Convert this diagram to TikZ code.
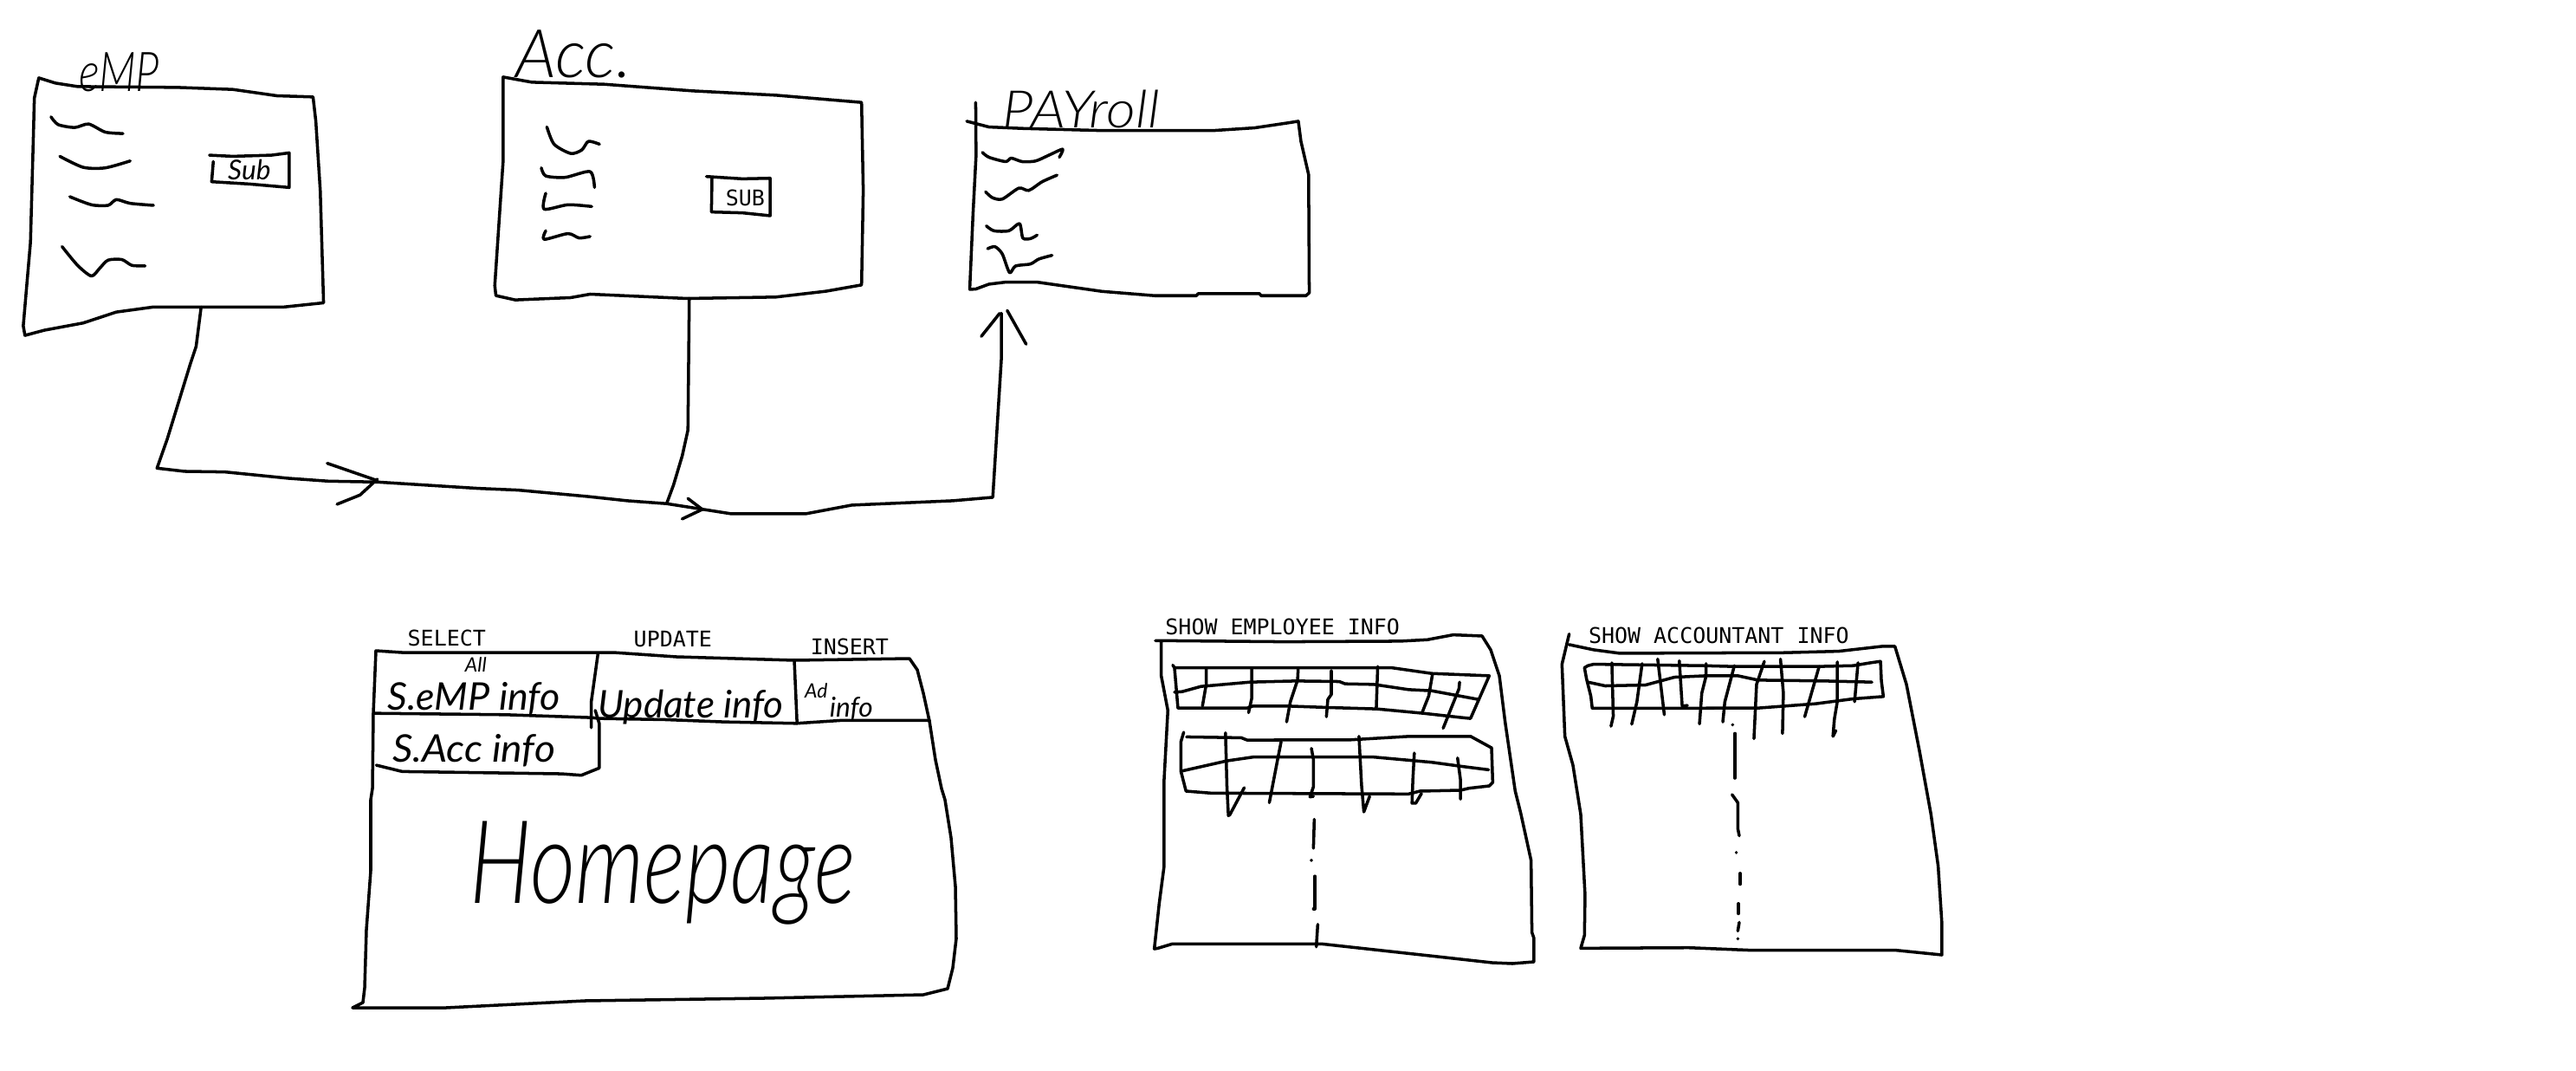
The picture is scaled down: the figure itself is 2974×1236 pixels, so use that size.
\documentclass[tikz,border=0pt]{standalone}
\usepackage{fontspec}
\setmainfont{Lato}
\newfontfamily\lightfont{Lato Light Italic}
\newfontfamily\printfont{DejaVu Sans Mono}
\newcommand\sq[1]{\draw[ink] plot[smooth,tension=.45] coordinates {#1};}
\newcommand\dotmark[1]{\fill #1 circle[radius=0.55pt];}
\tikzset{
  ink/.style={line width=1pt,line join=round,line cap=round,black},
  printed/.style={inner sep=0pt,font=\printfont\fontsize{7.1}{8}\selectfont},
  hand/.style={inner sep=0pt,transform shape,font=\lightfont\fontsize{#1}{#1}\selectfont},
  handsmall/.style={inner sep=0pt,transform shape,font=\itshape\fontsize{#1}{#1}\selectfont},
  zoomA/.style={shift={(0,20)},x=0.0064cm,y=-0.003333cm},
  zoomB/.style={shift={(1000,80)},x=0.003827cm,y=-0.003333cm},
  zoomC/.style={shift={(160,320)},x=0.006633cm,y=-0.003333cm},
  zoomD/.style={shift={(400,710)},x=0.004592cm,y=-0.003333cm},
  zoomE/.style={shift={(1320,700)},x=0.003333cm,y=-0.003333cm},
  zoomF/.style={shift={(1790,700)},x=0.003333cm,y=-0.003333cm},
}
\begin{document}
\begin{tikzpicture}[x=0.01cm,y=-0.01cm]
\useasboundingbox (0,0) rectangle (2974,1236);
\fill[white] (0,0) rectangle (2974,1236);

% ---------- EMP and ACC
\begin{scope}[zoomA]
\draw[ink] (70,210)--(100,228)--(140,240)--(320,243)--(420,250)--(500,272)--(565,276)--(570,360)--(578,600)--(584,990)--(510,1005)--(275,1005)--(210,1022)--(150,1060)--(80,1085)--(45,1103)--(42,1070)--(55,780)--(60,430)--(62,280)--cycle;
\sq{(92,345)(105,372)(135,382)(160,370)(190,398)(222,403)}
\sq{(108,482)(150,520)(190,522)(235,498)}
\sq{(126,622)(165,650)(195,652)(210,632)(235,645)(277,652)}
\sq{(112,795)(140,860)(165,897)(180,870)(195,842)(220,840)(238,860)(262,862)}
\draw[ink] (378,478)--(420,482)--(490,478)--(522,470)--(522,590)--(450,578)--(382,570)--(385,500);
\node[handsmall=9] (subemp) at (450,530) {Sub};
\node[hand=18,xscale=.8] (emptitle) at (215,190) {eMP};
\coordinate (empout) at (363,1005);

\draw[ink] (908,207)--(960,225)--(1090,232)--(1250,255)--(1400,270)--(1555,295)--(1558,600)--(1555,928)--(1490,950)--(1400,970)--(1240,975)--(1065,960)--(1030,972)--(930,980)--(895,965)--(893,930)--(908,500)--cycle;
\sq{(987,380)(1000,440)(1030,472)(1050,460)(1062,430)(1082,440)}
\sq{(977,522)(985,550)(1020,555)(1065,535)(1073,590)}
\sq{(985,610)(982,665)(1025,650)(1068,656)}
\sq{(985,740)(982,770)(1025,750)(1045,765)(1065,760)}
\draw[ink] (1275,552)--(1340,560)--(1390,558)--(1390,688)--(1340,678)--(1284,675)--(1285,560);
\node[printed] (subacc) at (1345,625) {SUB};
\node[hand=22] (acctitle) at (1035,128) {Acc.};
\coordinate (accout) at (1244,975);
\end{scope}

% ---------- PAYROLL
\begin{scope}[zoomB]
\draw[ink] (303,180)--(370,200)--(470,205)--(700,212)--(1050,212)--(1170,203)--(1275,185)--(1302,180)--(1310,250)--(1333,365)--(1335,775)--(1325,785)--(1190,785)--(1185,778)--(1000,778)--(995,785)--(870,785)--(710,770)--(515,738)--(420,738)--(370,745)--(330,762)--(312,763)--(322,500)--(331,300)--(330,115);
\sq{(350,288)(370,305)(420,320)(437,308)(470,320)(510,318)(550,298)(592,277)(582,305)}
\sq{(360,425)(380,445)(410,450)(460,412)(490,420)(530,390)(575,367)}
\sq{(362,543)(385,560)(430,560)(462,535)(472,585)(495,587)(515,575)}
\sq{(366,622)(388,615)(410,640)(432,705)(450,682)(495,675)(520,658)(560,645)}
\node[hand=17,xscale=1.1] (paytitle) at (648,138) {PAYroll};
\end{scope}

% ---------- CONNECTORS
\begin{scope}[zoomC]
\coordinate (mid) at (918,785);
\coordinate (payin) at (1500,125);
\draw[ink] (empout)--(100,240)--(90,300)--(50,560)--(32,662)--(80,673)--(150,675)--(260,697)--(330,707)--(415,710)--(590,732)--(660,738)--(780,760)--(850,775)--(mid)--(1030,820)--(1160,820)--(1240,790)--(1415,775)--(1485,763)--(1500,280)--(payin);
\draw[ink] (accout)--(955,530)--(945,620)--(930,720)--(mid);
\draw[ink] (1465,205)--(1497,125);
\draw[ink] (1510,115)--(1543,232);
\draw[ink] (328,645)--(415,705);
\draw[ink] (345,787)--(385,755)--(415,700);
\draw[ink] (955,767)--(980,805)--(945,838);
\end{scope}

% ---------- HOMEPAGE
\draw[ink] (434,751)--(464,753)--(708,753)--(781,758)--(917,762)--(1050,760)--(1059,773)--(1066,800)--(1073,832)--(1080,877)--(1087,910)--(1091,923)--(1098,967)--(1103,1023)--(1104,1083)--(1100,1117)--(1094,1141)--(1066,1148)--(882,1152)--(675,1155)--(515,1163)--(407,1163)--(419,1157)--(421,1140)--(423,1073)--(428,1005)--(428,923)--(430,910)--(431,823)--cycle;
\begin{scope}[zoomD]
\draw[ink] (68,340)--(400,345)--(615,355)--(635,358)--(800,362)--(950,370)--(1130,375)--(1240,365)--(1465,365);
\draw[ink] (632,132)--(615,300)--(615,390);
\draw[ink] (625,330)--(635,375)--(635,530)--(590,555)--(540,550)--(140,542)--(75,520);
\draw[ink] (1125,155)--(1132,375);
\node[printed] (select) at (252,78) {SELECT};
\node[printed] (update) at (820,82) {UPDATE};
\node[printed] (insert) at (1264,110) {INSERT};
\node[handsmall=6.5] (all) at (325,172) {All};
\node[handsmall=12.5,xscale=1.02] (semp) at (320,288) {S.eMP info};
\node[handsmall=12.5] (upd) at (865,318) {Update info};
\node[handsmall=6.5] (ad) at (1180,262) {Ad};
\node[handsmall=9] (inf) at (1268,325) {info};
\node[handsmall=12.5,xscale=1.05] (sacc) at (320,468) {S.Acc info};
\end{scope}
\node[hand=38,xscale=.76] (home) at (765,1008) {Homepage};

% ---------- EMPLOYEE PANEL
\begin{scope}[zoomE]
\node[printed] (showemp) at (483,70) {SHOW EMPLOYEE INFO};
\draw[ink] (42,118)--(490,122)--(890,120)--(985,115)--(1075,98)--(1175,102)--(1205,150)--(1235,240)--(1255,400)--(1290,640)--(1310,720)--(1345,880)--(1348,1130)--(1355,1150)--(1355,1232)--(1280,1238)--(1210,1235)--(1030,1215)--(620,1170)--(100,1170)--(50,1185)--(38,1187)--(55,1030)--(72,900)--(72,600)--(85,360)--(62,240)--(62,122);
\draw[ink] (102,203)--(108,212)--(860,212)--(1000,232)--(1200,240)--(1135,388)--(1105,385)--(970,370)--(810,355)--(640,350)--(500,345)--(380,345)--(360,352)--(120,352)--(108,212);
\draw[ink] (108,297)--(135,295)--(200,277)--(370,262)--(530,258)--(680,260)--(700,268)--(800,270)--(920,288)--(1000,292)--(1162,322);
\draw[ink] (218,215)--(218,270)--(205,345);
\draw[ink] (376,215)--(376,318)--(365,368);
\draw[ink] (537,218)--(535,255)--(510,330)--(497,400);
\draw[ink] (652,222)--(652,305)--(640,322)--(635,382);
\draw[ink] (813,208)--(808,355);
\draw[ink] (1003,235)--(990,310)--(967,368);
\draw[ink] (1097,262)--(1095,285)--(1040,422);
\draw[ink] (140,436)--(130,470)--(130,570)--(148,640)--(235,647)--(920,650)--(960,640)--(1100,637)--(1130,630)--(1200,622)--(1212,610)--(1208,490)--(1135,450)--(925,450)--(720,462)--(360,463)--(340,455)--(150,452);
\draw[ink] (135,570)--(290,535)--(380,522)--(800,522)--(1000,540)--(1110,555)--(1198,566);
\draw[ink] (285,438)--(290,625)--(295,725)--(300,722)--(350,628);
\draw[ink] (478,468)--(462,550)--(437,680);
\draw[ink] (583,492)--(590,530)--(590,625)--(578,660)--(590,658);
\draw[ink] (748,450)--(757,620)--(765,712)--(785,658);
\draw[ink] (940,508)--(935,600)--(932,682)--(945,682)--(965,648);
\draw[ink] (1090,525)--(1100,600)--(1100,668);
\draw[ink] (593,738)--(590,838);
\dotmark{(583,880)}
\draw[ink] (595,935)--(595,1048)--(590,1048);
\draw[ink] (605,1102)--(600,1180);
\end{scope}

% ---------- ACCOUNTANT PANEL
\begin{scope}[zoomF]
\node[printed] (showacc) at (584,100) {SHOW ACCOUNTANT INFO};
\draw[ink] (65,132)--(150,150)--(240,162)--(810,160)--(1000,155)--(1150,138)--(1195,138)--(1235,270)--(1280,500)--(1320,720)--(1345,900)--(1358,1100)--(1358,1208)--(1200,1192)--(700,1192)--(480,1183)--(105,1185)--(118,1140)--(120,1000)--(105,720)--(78,550)--(50,450)--(40,200)--(65,95);
\draw[ink] (118,212)--(130,205)--(150,200)--(530,205)--(640,208)--(920,208)--(1050,205)--(1110,195)--(1145,190)--(1148,258)--(1155,312)--(1050,320)--(920,337)--(720,352)--(145,353)--(140,310)--(125,250)--cycle;
\draw[ink] (130,262)--(190,275)--(330,272)--(430,245)--(540,240)--(650,240)--(720,255)--(950,258)--(1115,262);
\draw[ink] (213,195)--(218,380)--(210,415);
\draw[ink] (318,198)--(300,330)--(282,408);
\draw[ink] (372,182)--(395,375);
\draw[ink] (447,188)--(457,345)--(475,343);
\draw[ink] (540,198)--(540,240)--(525,300)--(517,407);
\draw[ink] (638,205)--(605,330)--(598,400);
\draw[ink] (742,190)--(715,270)--(706,458);
\draw[ink] (798,182)--(808,300)--(805,440);
\draw[ink] (932,208)--(882,382);
\draw[ink] (995,192)--(995,330)--(985,390)--(980,450)--(990,430);
\draw[ink] (1067,195)--(1055,330);
\dotmark{(632,410)}
\draw[ink] (640,440)--(640,595);
\draw[ink] (630,652)--(650,680)--(650,770)--(655,795);
\dotmark{(645,853)}
\draw[ink] (658,925)--(658,963);
\draw[ink] (652,1030)--(652,1065);
\draw[ink] (655,1095)--(650,1125);
\dotmark{(650,1152)}
\end{scope}
\end{tikzpicture}
\end{document}
